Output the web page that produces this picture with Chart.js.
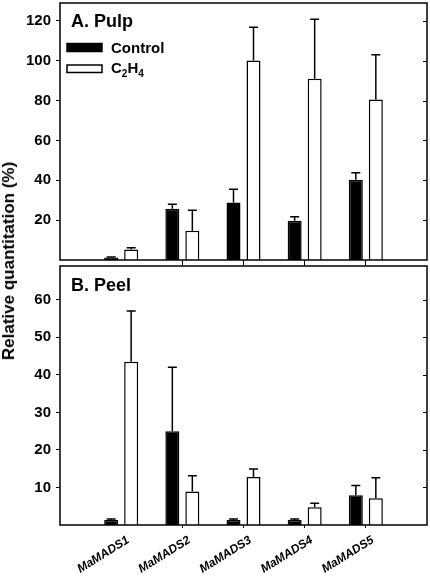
<!DOCTYPE html>
<html>
<head>
<meta charset="utf-8">
<script src="https://cdn.jsdelivr.net/npm/chart.js@4.4.1/dist/chart.umd.min.js"></script>
<style>
  body { margin:0; background:#fff; width:430px; height:578px; position:relative; overflow:hidden; }
  canvas { position:absolute; left:0; }
  #pulpChart { top:0; }
  #peelChart { top:256px; }
  #yTitle {
    position:absolute; left:9px; top:261px;
    transform:translate(-50%,-50%) rotate(-90deg);
    font:bold 17px "Liberation Sans", Arial, sans-serif;
    white-space:nowrap; color:#000;
  }
</style>
</head>
<body>
<canvas id="pulpChart" width="430" height="270"></canvas>
<canvas id="peelChart" width="430" height="322"></canvas>
<div id="yTitle">Relative quantitation (%)</div>
<script>
// genes on the x axis
const genes = ["MaMADS1", "MaMADS2", "MaMADS3", "MaMADS4", "MaMADS5"]

// A. Pulp
const pulpControl = [1.2, 25.7, 28.8, 19.7, 40.3]
const pulpControlErr = [0.3, 2.3, 6.7, 2.0, 3.5]
const pulpEthylene = [5.3, 14.7, 100.2, 91, 80.5]
const pulpEthyleneErr = [0.8, 10.3, 16.6, 29.8, 22.5]
const pulpTicks = [20, 40, 60, 80, 100, 120]

// B. Peel
const peelControl = [1.3, 25, 1.3, 1.3, 7.9]
const peelControlErr = [0.3, 17, 0.3, 0.3, 2.6]
const peelEthylene = [43.5, 8.9, 12.8, 4.7, 7.1]
const peelEthyleneErr = [13.5, 4.2, 2.1, 1.1, 5.5]
const peelTicks = [10, 20, 30, 40, 50, 60]

const FONT = '"Liberation Sans", Arial, sans-serif'

// empty slot at both ends so genes sit at 1..5 on a 0..6 axis
const pad = arr => [null].concat(arr, [null])
const labels = pad(genes)

// upper error bars, frame and inner right ticks
const framePlugin = {
  id: 'frame',
  afterDatasetsDraw(chart) {
    const ctx = chart.ctx
    const y = chart.scales.y
    ctx.save()
    ctx.strokeStyle = '#000'
    ctx.lineWidth = 1.5
    chart.data.datasets.forEach((ds, di) => {
      chart.getDatasetMeta(di).data.forEach((bar, i) => {
        const v = ds.data[i]
        if (v == null) return
        const top = y.getPixelForValue(v + ds.errors[i])
        const base = y.getPixelForValue(v)
        ctx.beginPath()
        ctx.moveTo(bar.x, base)
        ctx.lineTo(bar.x, top)
        ctx.moveTo(bar.x - 4.5, top)
        ctx.lineTo(bar.x + 4.5, top)
        ctx.stroke()
      })
    })
    ctx.restore()
  },
  afterDraw(chart, args, opts) {
    const ctx = chart.ctx
    const a = chart.chartArea
    const y = chart.scales.y
    ctx.save()
    ctx.strokeStyle = '#000'
    ctx.lineWidth = 1.5
    ctx.strokeRect(a.left, a.top, a.right - a.left, a.bottom - a.top)
    ctx.lineWidth = 1
    opts.ticks.forEach(t => {
      const py = Math.round(y.getPixelForValue(t)) + 0.5
      ctx.beginPath()
      ctx.moveTo(a.right - 4, py)
      ctx.lineTo(a.right, py)
      ctx.stroke()
    })
    // panel title
    ctx.fillStyle = '#000'
    ctx.textBaseline = 'alphabetic'
    ctx.font = 'bold 18px ' + FONT
    ctx.fillText(opts.title, 71, a.top + opts.titleY)
    if (opts.legend) {
      ctx.lineWidth = 1.5
      ctx.fillRect(67, 43.5, 35, 8)
      ctx.strokeRect(67, 43.5, 35, 8)
      ctx.fillStyle = '#fff'
      ctx.fillRect(67, 65, 35, 7.5)
      ctx.strokeRect(67, 65, 35, 7.5)
      ctx.fillStyle = '#000'
      ctx.font = 'bold 15px ' + FONT
      ctx.fillText('Control', 111, 52.5)
      let x = 111
      const parts = [['C', 0, 15], ['2', 4, 10], ['H', 0, 15], ['4', 4, 10]]
      parts.forEach(p => {
        ctx.font = 'bold ' + p[2] + 'px ' + FONT
        ctx.fillText(p[0], x, 73 + p[1])
        x += ctx.measureText(p[0]).width
      })
    }
    ctx.restore()
  }
}

function makeChart(id, control, controlErr, ethylene, ethyleneErr, yMax, ticks, xHeight, showLabels, extra) {
  return new Chart(document.getElementById(id), {
    type: 'bar',
    data: {
      labels: labels,
      datasets: [
        {
          label: 'Control',
          data: pad(control),
          errors: pad(controlErr),
          backgroundColor: '#000',
          borderColor: '#000',
          borderWidth: 1.5
        },
        {
          label: 'C2H4',
          data: pad(ethylene),
          errors: pad(ethyleneErr),
          backgroundColor: '#fff',
          borderColor: '#000',
          borderWidth: 1.5
        }
      ]
    },
    options: {
      responsive: false,
      devicePixelRatio: 1,
      animation: false,
      categoryPercentage: 0.654,
      barPercentage: 0.7,
      layout: { padding: { top: extra.padTop, right: 3, left: 0, bottom: 0 } },
      plugins: {
        legend: { display: false },
        tooltip: { enabled: false },
        frame: extra
      },
      scales: {
        x: {
          offset: false,
          grid: {
            offset: false,
            drawOnChartArea: false,
            tickLength: extra.tickLength,
            lineWidth: 1,
            color: c => (c.index === 0 || c.index === labels.length - 1) ? 'rgba(0,0,0,0)' : '#000'
          },
          border: { display: false },
          ticks: {
            display: showLabels,
            autoSkip: false,
            minRotation: 32,
            maxRotation: 32,
            padding: 5,
            labelOffset: 7,
            color: '#000',
            font: { family: FONT, size: 12, weight: 'bold', style: 'italic' }
          },
          afterFit: s => {
            s.height = xHeight
            s.paddingLeft = 0
            s.paddingRight = 0
          }
        },
        y: {
          min: 0,
          max: yMax,
          afterBuildTicks: s => { s.ticks = ticks.map(v => ({ value: v })) },
          grid: { drawOnChartArea: false, tickLength: 4, color: '#000', lineWidth: 1 },
          border: { display: false },
          ticks: {
            padding: 5,
            color: '#000',
            font: { family: FONT, size: 15, weight: 'bold' }
          },
          afterFit: s => {
            s.width = 60
            s.paddingTop = 0
            s.paddingBottom = 0
          }
        }
      }
    },
    plugins: [framePlugin]
  })
}

let pulpChart = makeChart('pulpChart', pulpControl, pulpControlErr, pulpEthylene, pulpEthyleneErr,
  129, pulpTicks, 10, false,
  { ticks: pulpTicks, title: 'A. Pulp', titleY: 24, legend: true, padTop: 3, tickLength: 6 })

let peelChart = makeChart('peelChart', peelControl, peelControlErr, peelEthylene, peelEthyleneErr,
  69, peelTicks, 53, true,
  { ticks: peelTicks, title: 'B. Peel', titleY: 25, legend: false, padTop: 10, tickLength: 3 })
</script>
</body>
</html>
